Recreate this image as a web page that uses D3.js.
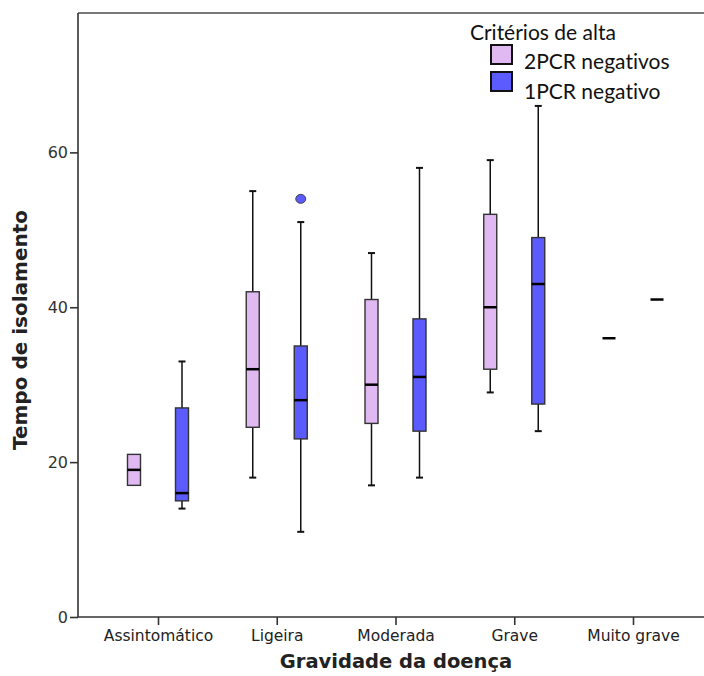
<!DOCTYPE html>
<html>
<head>
<meta charset="utf-8">
<script src="https://cdn.jsdelivr.net/npm/d3@7/dist/d3.min.js"></script>
<style>
  body { margin: 0; background: #fff; }
  svg { display: block; }
  text { font-variant-ligatures: none; font-feature-settings: "liga" 0; }
</style>
</head>
<body>
<svg id="chart" width="704" height="676"></svg>
<script>
// ---- Data ----
const categories = ["Assintomático", "Ligeira", "Moderada", "Grave", "Muito grave"];
const seriesNames = ["2PCR negativos", "1PCR negativo"];
const seriesColors = ["#e0b8f2", "#5b5bff"];
// [min whisker, Q1, median, Q3, max whisker]
const stats2PCR = [
  [17, 17, 19, 21, 21],
  [18, 24.5, 32, 42, 55],
  [17, 25, 30, 41, 47],
  [29, 32, 40, 52, 59],
  [36, 36, 36, 36, 36]
];
const stats1PCR = [
  [14, 15, 16, 27, 33],
  [11, 23, 28, 35, 51],
  [18, 24, 31, 38.5, 58],
  [24, 27.5, 43, 49, 66],
  [41, 41, 41, 41, 41]
];
const outliers1PCR = [[], [54], [], [], []];
const outliers2PCR = [[], [], [], [], []];
const yTicks = [0, 20, 40, 60];
const yDomain = [0, 78];

// ---- Layout ----
const svg = d3.select("#chart");
const plotLeft = 78, plotTop = 13, plotBottom = 617;
const x = d3.scalePoint().domain(categories).range([158, 633]);
const offset = d3.scalePoint().domain(seriesNames).range([-24, 24]);
const y = d3.scaleLinear().domain(yDomain).range([plotBottom, plotTop]);
const boxW = 13;

// frame top line
svg.append("line").attr("x1", plotLeft).attr("x2", 704).attr("y1", plotTop).attr("y2", plotTop)
  .attr("stroke", "#777").attr("stroke-width", 2);

// y axis
const yAxis = svg.append("g").attr("transform", `translate(${plotLeft},0)`)
  .call(d3.axisLeft(y).tickValues(yTicks).tickSize(8).tickPadding(2).tickSizeOuter(0));
yAxis.select(".domain").attr("stroke", "#333").attr("stroke-width", 1.6).attr("d", `M0,${plotTop}V${plotBottom}`);
yAxis.selectAll(".tick line").attr("stroke", "#333").attr("stroke-width", 1.6);
yAxis.selectAll(".tick text").style("font-family", "'DejaVu Sans'").style("font-size", "16px").attr("fill", "#333");

// x axis
const xAxis = svg.append("g").attr("transform", `translate(0,${plotBottom})`)
  .call(d3.axisBottom(x).tickSize(8).tickPadding(5).tickSizeOuter(0));
xAxis.select(".domain").attr("stroke", "#333").attr("stroke-width", 1.6).attr("d", `M${plotLeft},0H704`);
xAxis.selectAll(".tick line").attr("stroke", "#333").attr("stroke-width", 1.6);
xAxis.selectAll(".tick text").style("font-family", "'DejaVu Sans'").style("font-size", "15.5px").attr("fill", "#222");

// axis titles
svg.append("text").attr("x", 396).attr("y", 668).attr("text-anchor", "middle")
  .style("font-family", "'DejaVu Sans'").attr("font-weight", "bold").style("font-size", "19.5px")
  .attr("fill", "#222").text("Gravidade da doença");
svg.append("text").attr("transform", "translate(27,330) rotate(-90)").attr("text-anchor", "middle")
  .style("font-family", "'DejaVu Sans'").attr("font-weight", "bold").style("font-size", "20px")
  .attr("fill", "#222").text("Tempo de isolamento");

// boxes
const allSeries = [
  { name: seriesNames[0], color: seriesColors[0], stats: stats2PCR, out: outliers2PCR },
  { name: seriesNames[1], color: seriesColors[1], stats: stats1PCR, out: outliers1PCR }
];
const plot = svg.append("g");
allSeries.forEach(s => {
  categories.forEach((c, i) => {
    const [lo, q1, med, q3, hi] = s.stats[i];
    const cx = x(c) + offset(s.name);
    const g = plot.append("g");
    if (hi > q3) {
      g.append("line").attr("x1", cx).attr("x2", cx).attr("y1", y(q3)).attr("y2", y(hi))
        .attr("stroke", "#111").attr("stroke-width", 1.5);
      g.append("line").attr("x1", cx - 3.5).attr("x2", cx + 3.5).attr("y1", y(hi)).attr("y2", y(hi))
        .attr("stroke", "#111").attr("stroke-width", 2);
    }
    if (lo < q1) {
      g.append("line").attr("x1", cx).attr("x2", cx).attr("y1", y(q1)).attr("y2", y(lo))
        .attr("stroke", "#111").attr("stroke-width", 1.5);
      g.append("line").attr("x1", cx - 3.5).attr("x2", cx + 3.5).attr("y1", y(lo)).attr("y2", y(lo))
        .attr("stroke", "#111").attr("stroke-width", 2);
    }
    if (q3 > q1) {
      g.append("rect").attr("x", cx - boxW / 2).attr("width", boxW)
        .attr("y", y(q3)).attr("height", y(q1) - y(q3))
        .attr("fill", s.color).attr("stroke", "#333").attr("stroke-width", 1.4);
    }
    g.append("line").attr("x1", cx - boxW / 2).attr("x2", cx + boxW / 2).attr("y1", y(med)).attr("y2", y(med))
      .attr("stroke", "#000").attr("stroke-width", 2.5);
    s.out[i].forEach(v => {
      g.append("ellipse").attr("cx", cx).attr("cy", y(v)).attr("rx", 5).attr("ry", 4.5)
        .attr("fill", s.color).attr("stroke", "#444").attr("stroke-width", 1);
    });
  });
});

// legend
const legend = svg.append("g");
legend.append("text").attr("x", 470).attr("y", 40).style("font-family", "Lato").style("font-size", "21px")
  .attr("fill", "#111").text("Critérios de alta");
allSeries.forEach((s, i) => {
  legend.append("rect").attr("x", 491).attr("y", 45 + i * 27).attr("width", 21).attr("height", 19)
    .attr("fill", s.color).attr("stroke", "#111").attr("stroke-width", 2);
  legend.append("text").attr("x", 524).attr("y", 69 + i * 30).style("font-family", "Lato").style("font-size", "21px")
    .attr("fill", "#111").text(s.name);
});
</script>
</body>
</html>
